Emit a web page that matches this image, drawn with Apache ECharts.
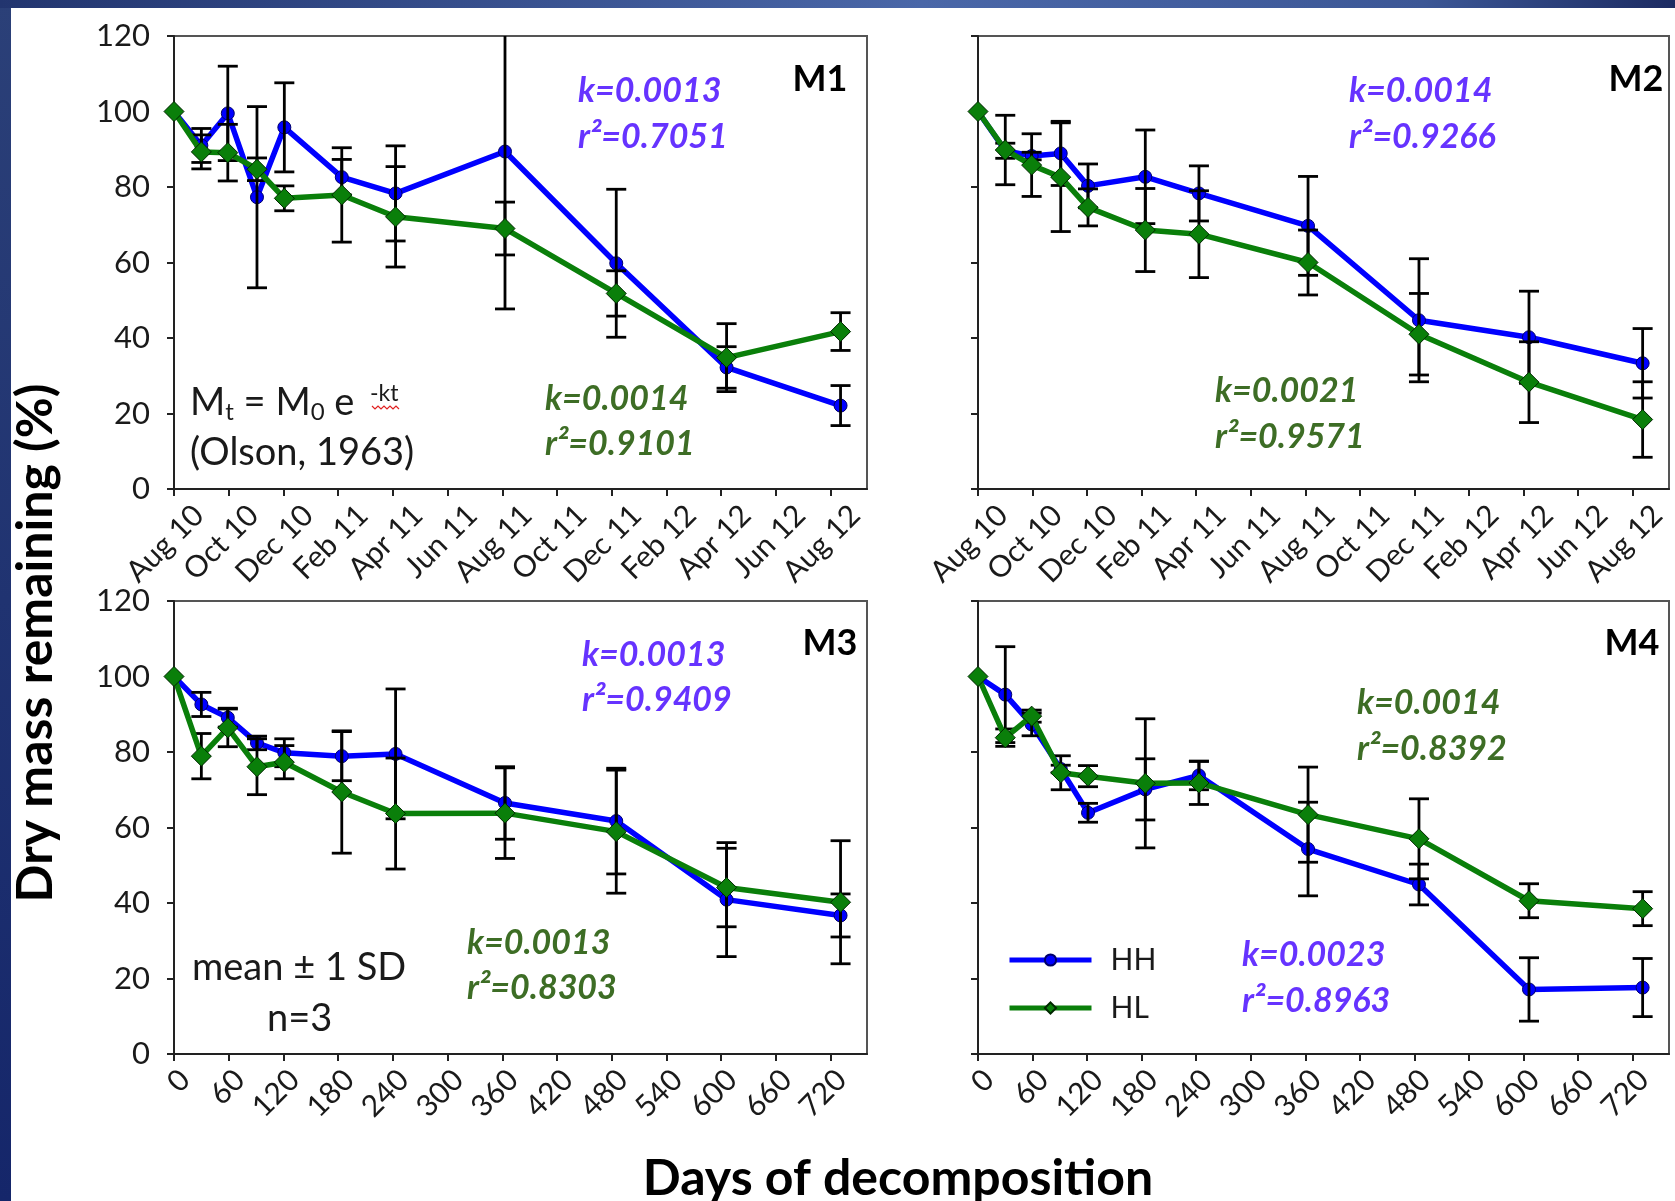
<!DOCTYPE html>
<html><head><meta charset="utf-8">
<script src="https://cdn.jsdelivr.net/npm/echarts@6/dist/echarts.min.js"></script>
<style>html,body{margin:0;padding:0;background:#fff}#c{width:1675px;height:1201px}</style>
</head><body><div id="c"></div>
<script>
// ---- data ----
const DAYS = [0, 30, 59, 91, 121, 184, 243, 363, 485, 606, 731];
const TICK_DAYS = [0, 60, 120, 180, 240, 300, 360, 420, 480, 540, 600, 660, 720];
const MONTH_LABELS = ['Aug 10','Oct 10','Dec 10','Feb 11','Apr 11','Jun 11','Aug 11','Oct 11','Dec 11','Feb 12','Apr 12','Jun 12','Aug 12'];
const DAY_LABELS = ['0','60','120','180','240','300','360','420','480','540','600','660','720'];

const M1_HH    = [100, 91, 99.5, 77.3, 95.8, 82.6, 78.3, 89.4, 59.8, 32.2, 22.1];
const M1_HH_SD = [0, 4.5, 12.5, 24, 11.8, 4.7, 12.6, 41.7, 19.6, 5.5, 5.3];
const M1_HL    = [100, 89.3, 89.1, 84.7, 77, 77.9, 72.1, 69, 51.8, 34.8, 41.7];
const M1_HL_SD = [0, 4.5, 7.5, 3, 3.3, 12.5, 13.3, 7, 6, 9, 5];

const M2_HH    = [100, 89.6, 88.2, 88.9, 80.3, 82.7, 78.3, 69.7, 44.7, 40.2, 33.3];
const M2_HH_SD = [0, 2, 1, 8.5, 5.8, 12.4, 7.3, 13.1, 16.3, 12.2, 9.2];
const M2_HL    = [100, 89.8, 85.8, 82.6, 74.6, 68.6, 67.5, 60, 41, 28.3, 18.4];
const M2_HL_SD = [0, 9.2, 8.3, 14.4, 4.9, 11, 11.5, 8.6, 10.8, 10.7, 10];

const M3_HH    = [100, 92.6, 89.1, 82.4, 79.8, 78.9, 79.5, 66.5, 61.7, 40.9, 36.7];
const M3_HH_SD = [0, 3.2, 2.5, 1.8, 3.7, 6.5, 17.2, 9.6, 14, 15.1, 5.7];
const M3_HL    = [100, 78.9, 86.4, 76.1, 77.3, 69.4, 63.7, 63.8, 58.9, 44.1, 40.2];
const M3_HL_SD = [0, 6, 5, 7.4, 4.4, 16.2, 14.7, 12, 16.3, 10.4, 16.3];

const M4_HH    = [100, 95.2, 87.3, 75.5, 63.9, 70.1, 73.8, 54.3, 44.9, 17.1, 17.6];
const M4_HH_SD = [0, 12.7, 3, 1, 2.5, 8.1, 3.8, 12.4, 5.4, 8.4, 7.7];
const M4_HL    = [100, 83.8, 89.5, 74.5, 73.6, 71.7, 71.8, 63.4, 57, 40.6, 38.5];
const M4_HL_SD = [0, 2.3, 1.6, 4.5, 2.8, 17.1, 5.7, 12.6, 10.6, 4.5, 4.5];

const PANELS = [
  {name:'M1', hh:M1_HH, hhSd:M1_HH_SD, hl:M1_HL, hlSd:M1_HL_SD, labels:MONTH_LABELS},
  {name:'M2', hh:M2_HH, hhSd:M2_HH_SD, hl:M2_HL, hlSd:M2_HL_SD, labels:MONTH_LABELS},
  {name:'M3', hh:M3_HH, hhSd:M3_HH_SD, hl:M3_HL, hlSd:M3_HL_SD, labels:DAY_LABELS},
  {name:'M4', hh:M4_HH, hhSd:M4_HH_SD, hl:M4_HL, hlSd:M4_HL_SD, labels:DAY_LABELS}
];

// ---- styling ----
const FONT = 'Lato, "Open Sans", sans-serif';
const BLUE = '#0000ff', GREEN = '#0a7f0a';
const PURPLE_TXT = '#6633ff', GREEN_TXT = '#3d6d25';
const GRIDS = [
  {left:174, top:36, width:693, height:453},
  {left:978, top:36, width:691, height:453},
  {left:174, top:601, width:693, height:453},
  {left:978, top:601, width:691, height:453}
];

const chart = echarts.init(document.getElementById('c'), null, {renderer:'canvas'});

const grids = GRIDS.map(g => Object.assign({show:true, borderColor:'#555', borderWidth:2, backgroundColor:'#fff'}, g));
const xAxes = PANELS.map((p, i) => {
  const isMonth = i < 2;
  const lbl = isMonth
    ? {margin:46, verticalAlign:'middle', padding:[0,-35,0,0]}
    : {margin:10, verticalAlign:'top', lineHeight:31};
  return {
    type:'value', gridIndex:i, min:0, max:760, interval:60,
    axisLine:{show:true, onZero:false, lineStyle:{color:'#222', width:2}},
    axisTick:{show:true, length:7, customValues:TICK_DAYS, lineStyle:{color:'#222', width:2}},
    axisLabel:Object.assign({show:true, customValues:TICK_DAYS, rotate:45,
      showMinLabel:true, showMaxLabel:true, hideOverlap:false,
      fontFamily:FONT, fontSize:30, color:'#1a1a1a',
      formatter: v => { const k = TICK_DAYS.indexOf(v); return k >= 0 ? p.labels[k] : ''; }}, lbl),
    splitLine:{show:false}
  };
});
const yAxes = PANELS.map((p, i) => ({
  type:'value', gridIndex:i, min:0, max:120, interval:20,
  axisLine:{show:true, onZero:false, lineStyle:{color:'#222', width:2}},
  axisTick:{show:true, length:7, lineStyle:{color:'#222', width:2}},
  axisLabel:{show: i % 2 === 0, margin:24, fontFamily:FONT, fontSize:31, color:'#1a1a1a'},
  splitLine:{show:false}
}));

function lineSeries(name, i, vals, isHH) {
  return {
    name, type:'line', xAxisIndex:i, yAxisIndex:i, animation:false,
    data: DAYS.map((d, k) => [d, vals[k]]),
    symbol: isHH ? 'circle' : 'diamond', symbolSize: isHH ? 13 : 20,
    lineStyle:{color: isHH ? BLUE : GREEN, width:5.5},
    itemStyle:{color: isHH ? BLUE : GREEN, borderColor: isHH ? '#00006a' : '#002800', borderWidth:1},
    z: isHH ? 2 : 4
  };
}
function errSeries(i, vals, sds, z) {
  const data = [];
  DAYS.forEach((d, k) => { if (sds[k] > 0) data.push([d, vals[k] - sds[k], vals[k] + sds[k]]); });
  return {
    type:'custom', xAxisIndex:i, yAxisIndex:i, z, clip:true, silent:true, animation:false,
    encode:{x:0, y:[1,2]},
    data,
    renderItem(params, api) {
      const x = api.value(0);
      const pHi = api.coord([x, api.value(2)]);
      const pLo = api.coord([x, api.value(1)]);
      const w = 10, st = {stroke:'#000', lineWidth:2.8};
      return {type:'group', children:[
        {type:'line', shape:{x1:pHi[0], y1:pHi[1], x2:pLo[0], y2:pLo[1]}, style:st},
        {type:'line', shape:{x1:pHi[0]-w, y1:pHi[1], x2:pHi[0]+w, y2:pHi[1]}, style:st},
        {type:'line', shape:{x1:pLo[0]-w, y1:pLo[1], x2:pLo[0]+w, y2:pLo[1]}, style:st}
      ]};
    }
  };
}
const series = [];
PANELS.forEach((p, i) => {
  series.push(lineSeries('HH', i, p.hh, true));
  series.push(errSeries(i, p.hh, p.hhSd, 3));
  series.push(errSeries(i, p.hl, p.hlSd, 3));
  series.push(lineSeries('HL', i, p.hl, false));
});

function txt(x, y, text, font, fill, align) {
  return {type:'text', x, y, z:100, silent:true, style:{text, font, fill, align: align || 'left', verticalAlign:'middle'}};
}
const KFONT = 'italic bold 34px ' + FONT;
const PFONT = 'bold 36px ' + FONT;
const NFONT = '38px ' + FONT;

const graphic = [
  {type:'rect', z:-10, shape:{x:0, y:0, width:11, height:1201}, style:{fill:new echarts.graphic.LinearGradient(0,0,0,1,[{offset:0,color:'#2b4078'},{offset:1,color:'#15266a'}])}},
  {type:'rect', z:-10, shape:{x:0, y:0, width:1675, height:8}, style:{fill:new echarts.graphic.LinearGradient(0,0,1,0,[{offset:0,color:'#22356f'},{offset:0.55,color:'#4a67a8'},{offset:0.85,color:'#3c5796'},{offset:1,color:'#1c2b62'}])}},
  // panel labels
  txt(820, 79, 'M1', PFONT, '#000', 'center'),
  txt(1636, 79, 'M2', PFONT, '#000', 'center'),
  txt(830, 643, 'M3', PFONT, '#000', 'center'),
  txt(1632, 643, 'M4', PFONT, '#000', 'center'),
  // M1
  txt(578, 91, 'k=0.0013', KFONT, PURPLE_TXT),
  txt(578, 137, 'r\u00B2=0.7051', KFONT, PURPLE_TXT),
  txt(545, 399, 'k=0.0014', KFONT, GREEN_TXT),
  txt(545, 444, 'r\u00B2=0.9101', KFONT, GREEN_TXT),
  {type:'text', x:190, y:382, z:100, silent:true, style:{
    text:'{m|M}{s|t}{m| = M}{s|0}{m| e }{p| -kt}', fill:'#1a1a1a',
    rich:{
      m:{fontFamily:FONT, fontSize:38, lineHeight:42, fill:'#1a1a1a'},
      s:{fontFamily:FONT, fontSize:24, lineHeight:14, verticalAlign:'bottom', fill:'#1a1a1a'},
      p:{fontFamily:FONT, fontSize:23, lineHeight:33, verticalAlign:'top', fill:'#1a1a1a'}
    }}},
  {type:'polyline', z:100, silent:true, shape:{points:[[372,406],[375,409],[378,406],[381,409],[384,406],[387,409],[390,406],[393,409],[396,406],[399,409]]}, style:{stroke:'#e02020', lineWidth:1.2, fill:null}},
  txt(190, 453, '(Olson, 1963)', NFONT, '#1a1a1a'),
  // M2
  txt(1349, 91, 'k=0.0014', KFONT, PURPLE_TXT),
  txt(1349, 137, 'r\u00B2=0.9266', KFONT, PURPLE_TXT),
  txt(1215, 391, 'k=0.0021', KFONT, GREEN_TXT),
  txt(1215, 437, 'r\u00B2=0.9571', KFONT, GREEN_TXT),
  // M3
  txt(582, 655, 'k=0.0013', KFONT, PURPLE_TXT),
  txt(582, 700, 'r\u00B2=0.9409', KFONT, PURPLE_TXT),
  txt(467, 943, 'k=0.0013', KFONT, GREEN_TXT),
  txt(467, 988, 'r\u00B2=0.8303', KFONT, GREEN_TXT),
  txt(192, 968, 'mean \u00B1 1 SD', NFONT, '#1a1a1a'),
  txt(267, 1019, 'n=3', NFONT, '#1a1a1a'),
  // M4
  txt(1357, 703, 'k=0.0014', KFONT, GREEN_TXT),
  txt(1357, 749, 'r\u00B2=0.8392', KFONT, GREEN_TXT),
  txt(1242, 955, 'k=0.0023', KFONT, PURPLE_TXT),
  txt(1242, 1001, 'r\u00B2=0.8963', KFONT, PURPLE_TXT),
  // axis titles
  {type:'text', x:36, y:643, rotation:Math.PI/2, z:100, silent:true, style:{text:'Dry mass remaining (%)', font:'bold 50px ' + FONT, fill:'#000', align:'center', verticalAlign:'middle'}},
  txt(898, 1179, 'Days of decomposition', 'bold 50px ' + FONT, '#000', 'center')
];

chart.setOption({
  animation:false,
  backgroundColor:'#fff',
  grid: grids, xAxis: xAxes, yAxis: yAxes, series,
  legend:{
    data:['HH','HL'], orient:'vertical', left:1002, top:940, selectedMode:false,
    itemWidth:82, itemHeight:14, itemGap:18,
    lineStyle:{width:5},
    textStyle:{fontFamily:FONT, fontSize:30, color:'#1a1a1a', padding:[0,0,0,14]}
  },
  graphic
});
</script></body></html>
